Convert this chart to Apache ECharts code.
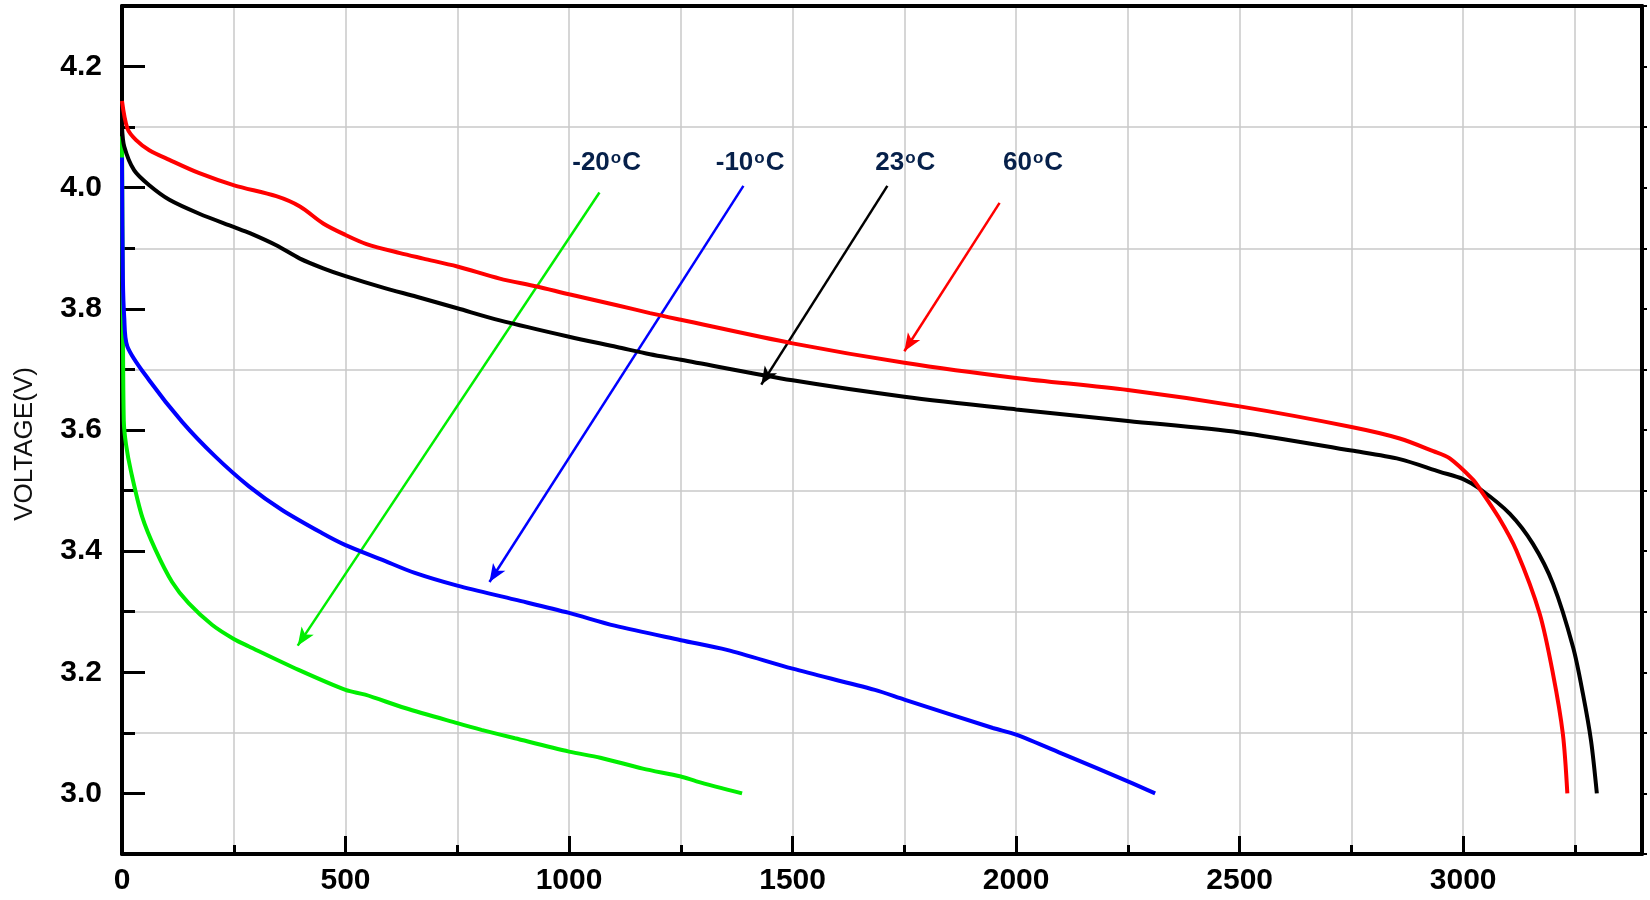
<!DOCTYPE html>
<html>
<head>
<meta charset="utf-8">
<script src="https://cdn.jsdelivr.net/npm/echarts@6/dist/echarts.min.js"></script>
<style>
html,body{margin:0;padding:0;background:#fff;}
#chart{width:1650px;height:900px;}
</style>
</head>
<body>
<div id="chart"></div>
<script>
// ---- data (capacity mAh, voltage V) ----
const curve60 = [[0,4.143],[12,4.098],[31,4.079],[61,4.062],[106,4.046],[173,4.024],[251,4.004],[345,3.986],[398,3.969],[450,3.941],[500,3.922],[547,3.907],[622,3.892],[674,3.883],[750,3.870],[845,3.850],[928,3.837],[1000,3.824],[1107,3.806],[1181,3.793],[1250,3.782],[1500,3.743],[1750,3.711],[2000,3.686],[2250,3.666],[2500,3.639],[2750,3.605],[2858,3.586],[2933,3.565],[2970,3.553],[3022,3.518],[3037,3.503],[3080,3.455],[3119,3.401],[3171,3.297],[3201,3.197],[3223,3.098],[3233,3.0]];
const curve23 = [[0,4.10],[5,4.068],[27,4.029],[61,4.004],[106,3.980],[173,3.957],[251,3.935],[286,3.925],[345,3.905],[398,3.883],[450,3.867],[500,3.854],[584,3.835],[659,3.820],[750,3.801],[845,3.781],[1000,3.754],[1107,3.737],[1181,3.725],[1250,3.716],[1500,3.682],[1750,3.655],[2000,3.634],[2250,3.615],[2500,3.596],[2750,3.566],[2858,3.552],[2948,3.531],[3000,3.519],[3037,3.503],[3104,3.462],[3156,3.412],[3201,3.346],[3246,3.241],[3268,3.164],[3286,3.087],[3299,3.0]];
const curveM10 = [[0,4.05],[2,3.85],[5,3.786],[12,3.738],[60,3.683],[135,3.613],[209,3.556],[284,3.507],[358,3.468],[447,3.430],[500,3.410],[581,3.386],[655,3.364],[750,3.343],[879,3.320],[1000,3.298],[1102,3.277],[1250,3.253],[1353,3.237],[1500,3.206],[1684,3.171],[1750,3.155],[1948,3.108],[2000,3.097],[2108,3.064],[2250,3.020],[2311,3.0]];
const curveM20 = [[0,4.085],[2,3.80],[4,3.615],[9,3.576],[20,3.532],[45,3.457],[75,3.402],[112,3.349],[149,3.314],[202,3.278],[250,3.255],[283,3.243],[395,3.204],[500,3.171],[544,3.163],[633,3.141],[750,3.116],[804,3.105],[879,3.091],[1000,3.069],[1070,3.059],[1165,3.041],[1250,3.028],[1285,3.020],[1387,3.0]];

const tempNames = ['-20', '-10', '23', '60'];
const labelAnchors = [[1084,4.041],[1405,4.041],[1752,4.041],[2038,4.041]];
const arrowStarts = [[1068,3.992],[1390,4.003],[1712,4.003],[1963,3.975]];
const arrowEnds = [[393,3.244],[822,3.349],[1430,3.675],[1750,3.730]];

const xMajorLabels = [0,500,1000,1500,2000,2500,3000];
const yMajorLabels = [3.0,3.2,3.4,3.6,3.8,4.0,4.2];
const yMinorTicks = [2.9,3.1,3.3,3.5,3.7,3.9,4.1,4.3];

const colors = ['#00ee00', '#0000ff', '#000000', '#ff0000'];
const curves = [curveM20, curveM10, curve23, curve60];

const FONT = 'Liberation Sans, Arial, sans-serif';
const LABEL_COLOR = '#06204a';
const chart = echarts.init(document.getElementById('chart'));

const series = [];
curves.forEach((c, i) => {
  series.push({
    type: 'line', data: c, xAxisIndex: 0, yAxisIndex: 0,
    showSymbol: false, symbol: 'none', smooth: 0.3,
    lineStyle: { color: colors[i], width: 4 },
    z: 5,
    markLine: {
      silent: true, animation: false,
      symbol: ['none', 'arrow'], symbolSize: [11, 18],
      lineStyle: { color: colors[i], width: 2.5, type: 'solid' },
      label: { show: false },
      data: [[{ coord: arrowStarts[i] }, { coord: arrowEnds[i] }]]
    }
  });
});
series.push({
  type: 'scatter', xAxisIndex: 0, yAxisIndex: 0,
  symbolSize: 0, silent: true, z: 10,
  data: labelAnchors.map((p, i) => ({ value: p, name: tempNames[i] })),
  label: {
    show: true, position: 'inside', opacity: 1,
    formatter: p => '{b|' + p.name + '}{s|o}{b|C}',
    rich: {
      b: { fontFamily: FONT, fontWeight: 'bold', fontSize: 26, color: LABEL_COLOR },
      s: { fontFamily: FONT, fontWeight: 'bold', fontSize: 17, color: LABEL_COLOR, verticalAlign: 'top', padding: [0, 1, 10, 1] }
    }
  }
});

const option = {
  backgroundColor: '#fff',
  animation: false,
  grid: { left: 122, right: 8, top: 6, bottom: 46, containLabel: false, outerBoundsMode: 'none' },
  xAxis: [
    {
      type: 'value', min: 0, max: 3400, interval: 250, position: 'bottom',
      axisLine: { show: true, onZero: false, lineStyle: { color: '#000', width: 4 } },
      axisTick: { show: true, inside: true, length: 9, lineStyle: { color: '#000', width: 3 } },
      axisLabel: {
        show: true, margin: 12, color: '#000', fontFamily: FONT, fontWeight: 'bold', fontSize: 30,
        formatter: v => (xMajorLabels.indexOf(Math.round(v)) >= 0 ? String(Math.round(v)) : '')
      },
      splitLine: { show: true, lineStyle: { color: '#c8c8c8', width: 1.5 } }
    },
    {
      type: 'value', min: 0, max: 3400, interval: 500, position: 'bottom',
      axisLine: { show: false },
      axisTick: { show: true, inside: true, length: 18, lineStyle: { color: '#000', width: 3 } },
      axisLabel: { show: false },
      splitLine: { show: false }
    },
    {
      type: 'value', min: 0, max: 3400, position: 'top',
      axisLine: { show: true, onZero: false, lineStyle: { color: '#000', width: 4 } },
      axisTick: { show: false }, axisLabel: { show: false }, splitLine: { show: false }
    }
  ],
  yAxis: [
    {
      type: 'value', min: 2.9, max: 4.3, interval: 0.1, position: 'left',
      name: 'VOLTAGE(V)', nameLocation: 'middle', nameGap: 84, nameRotate: 90,
      nameTextStyle: { fontFamily: FONT, fontSize: 26, color: '#111', padding: [0, 28, 0, 0] },
      axisLine: { show: true, onZero: false, lineStyle: { color: '#000', width: 4 } },
      axisTick: { show: true, inside: true, length: 13, lineStyle: { color: '#000', width: 3 }, customValues: yMinorTicks },
      axisLabel: {
        show: true, margin: 20, color: '#000', fontFamily: FONT, fontWeight: 'bold', fontSize: 30,
        customValues: yMajorLabels,
        formatter: v => v.toFixed(1)
      },
      splitLine: { show: true, lineStyle: { color: '#c8c8c8', width: 1.5 } }
    },
    {
      type: 'value', min: 2.9, max: 4.3, interval: 0.1, position: 'left',
      axisLine: { show: false },
      axisTick: { show: true, inside: true, length: 23, lineStyle: { color: '#000', width: 3 }, customValues: yMajorLabels },
      axisLabel: { show: false },
      splitLine: { show: false }
    },
    {
      type: 'value', min: 2.9, max: 4.3, interval: 0.1, position: 'right',
      axisLine: { show: true, onZero: false, lineStyle: { color: '#000', width: 4 } },
      axisTick: { show: true, inside: false, length: 5, lineStyle: { color: '#000', width: 2 } },
      axisLabel: { show: false },
      splitLine: { show: false }
    }
  ],
  series: series
};
chart.setOption(option);
</script>
</body>
</html>
